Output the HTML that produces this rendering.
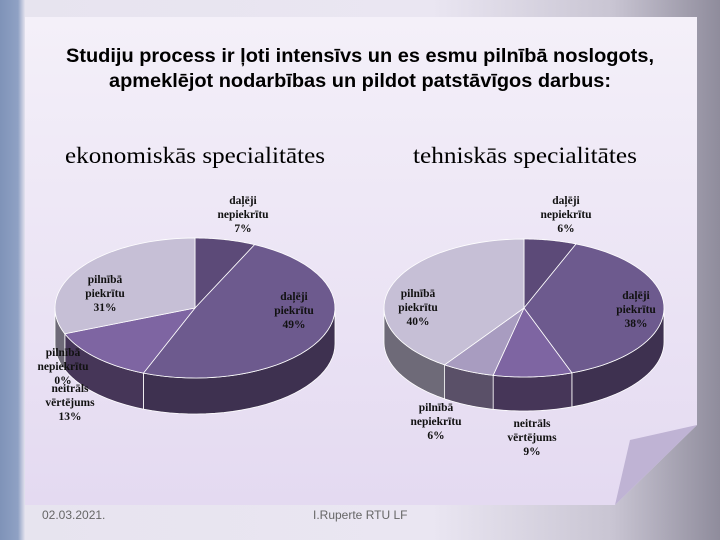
<!DOCTYPE html>
<html><head><meta charset="utf-8">
<style>
body{margin:0;width:720px;height:540px;overflow:hidden;font-family:"Liberation Sans",sans-serif;}
#bg{position:absolute;left:0;top:0;width:720px;height:540px;background:linear-gradient(90deg,#7f93b8 0,#8fa1c4 2.5%,#e7e4ef 3.5%,#eae6f2 60%,#c9c5d3 85%,#8f8c9c 100%);}
svg{position:absolute;left:0;top:0}
.t{font-family:"Liberation Sans",sans-serif;font-weight:bold;font-size:19px;fill:#000}
.s{font-family:"Liberation Serif",serif;font-size:23px;fill:#000}
.l{font-family:"Liberation Serif",serif;font-size:11.5px;font-weight:bold;fill:#111}
.f{font-family:"Liberation Sans",sans-serif;font-size:12px;fill:#666}
</style></head><body>
<div id="bg"></div>
<svg id="chart" width="720" height="540">
<defs><linearGradient id="card" x1="0" y1="0" x2="0" y2="1"><stop offset="0" stop-color="#f4f0f9"/><stop offset="1" stop-color="#e4daf1"/></linearGradient></defs>
<polygon points="25,17 697,17 697,425 615,505 25,505" fill="url(#card)"/>
<polygon points="697,425 630,440 615,505" fill="#bfb3d4"/>
<text class="t" x="360" y="62" text-anchor="middle" textLength="588" lengthAdjust="spacingAndGlyphs">Studiju process ir ļoti intensīvs un es esmu pilnībā noslogots,</text>
<text class="t" x="360" y="87" text-anchor="middle" textLength="502" lengthAdjust="spacingAndGlyphs">apmeklējot nodarbības un pildot patstāvīgos darbus:</text>
<text class="s" x="65" y="163" textLength="260" lengthAdjust="spacingAndGlyphs">ekonomiskās specialitātes</text>
<text class="s" x="413" y="163" textLength="224" lengthAdjust="spacingAndGlyphs">tehniskās specialitātes</text>
<g id="pies"></g>
<text class="f" x="42" y="519">02.03.2021.</text>
<text class="f" x="313" y="519">I.Ruperte RTU LF</text>
</svg>
<script>
const categories=["daļēji nepiekrītu","daļēji piekrītu","neitrāls vērtējums","pilnībā nepiekrītu","pilnībā piekrītu"];
const valuesEkon=[7,49,13,0,31];
const valuesTehn=[6,38,9,6,40];
const topColors=["#5c4a78","#6d5a8e","#7e65a2","#a89cc0","#c6bfd6"];
const sideColors=["#3c2f52","#3e3150","#463658","#5a5068","#6e6a78"];
const NS="http://www.w3.org/2000/svg";
const g=document.getElementById('pies');
function mk(tag,attrs){const e=document.createElementNS(NS,tag);for(const k in attrs)e.setAttribute(k,attrs[k]);return e;}
function drawPie(cx,cy,rx,ry,d,vals,labels,name){
  const tot=vals.reduce((a,b)=>a+b,0);
  const P=(a,dy)=>[cx+rx*Math.sin(a),cy-ry*Math.cos(a)+(dy||0)];
  let a0=0;const angs=[];
  vals.forEach(v=>{const a1=a0+v/tot*2*Math.PI;angs.push([a0,a1]);a0=a1;});
  angs.forEach(([s,e],i)=>{
    const lo=Math.max(s,Math.PI/2),hi=Math.min(e,3*Math.PI/2);
    if(hi<=lo)return;
    let pts=[];const n=30;
    for(let k=0;k<=n;k++)pts.push(P(lo+(hi-lo)*k/n));
    for(let k=n;k>=0;k--)pts.push(P(lo+(hi-lo)*k/n,d));
    const p=mk('polygon',{points:pts.map(q=>q.join(',')).join(' '),fill:sideColors[i],stroke:'#fff','stroke-width':0.8});
    
    
    g.appendChild(p);
  });
  angs.forEach(([s,e],i)=>{
    if(e-s<=0)return;
    let pts=[[cx,cy]];const n=40;
    for(let k=0;k<=n;k++)pts.push(P(s+(e-s)*k/n));
    const p=mk('polygon',{points:pts.map(q=>q.join(',')).join(' '),fill:topColors[i],stroke:'#fff','stroke-width':0.8});
    
    
    g.appendChild(p);
  });
  labels.forEach((L,i)=>{
    const t=mk('text',{class:'l','text-anchor':'middle'});
    
    
    L.lines.concat([vals[i]+'%']).forEach((ln,j)=>{const s=mk('tspan',{x:L.x,y:L.y+j*14});s.textContent=ln;t.appendChild(s);});
    g.appendChild(t);
  });
}
drawPie(195,308,140,70,36,valuesEkon,[
 {x:243,y:204,lines:["daļēji","nepiekrītu"]},
 {x:294,y:300,lines:["daļēji","piekrītu"]},
 {x:70,y:392,lines:["neitrāls","vērtējums"]},
 {x:63,y:356,lines:["pilnībā","nepiekrītu"]},
 {x:105,y:283,lines:["pilnībā","piekrītu"]}],'pie-ekonomiskas');
drawPie(524,308,140,69,34,valuesTehn,[
 {x:566,y:204,lines:["daļēji","nepiekrītu"]},
 {x:636,y:299,lines:["daļēji","piekrītu"]},
 {x:532,y:427,lines:["neitrāls","vērtējums"]},
 {x:436,y:411,lines:["pilnībā","nepiekrītu"]},
 {x:418,y:297,lines:["pilnībā","piekrītu"]}],'pie-tehniskas');
</script>
</body></html>
